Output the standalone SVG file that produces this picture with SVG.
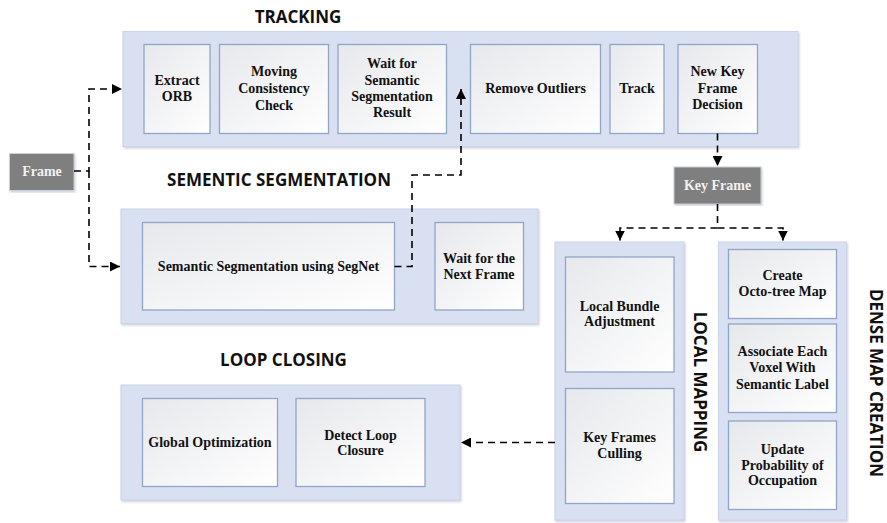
<svg xmlns="http://www.w3.org/2000/svg" width="887" height="523" viewBox="0 0 887 523">
<defs>
<linearGradient id="bg" x1="0" y1="0" x2="1" y2="1">
<stop offset="0" stop-color="#E7E8EC"/>
<stop offset="1" stop-color="#FFFFFF"/>
</linearGradient>
<filter id="sh" x="-5%" y="-5%" width="110%" height="110%">
<feDropShadow dx="1" dy="1.5" stdDeviation="1" flood-color="#9AA3B5" flood-opacity="0.5"/>
</filter>
<marker id="ah" viewBox="0 0 10 10" refX="10" refY="5" markerWidth="10" markerHeight="10" markerUnits="userSpaceOnUse" orient="auto">
<path d="M0,0 L10,5 L0,10 z" fill="#000"/>
</marker>
<style>
.cont{fill:#D9E0F1;stroke:#CCD4EA;stroke-width:1;filter:url(#sh)}
.box{fill:url(#bg);stroke:#8EA7C7;stroke-width:1.3}
.dark{fill:#7F7F7F;stroke:#C8CFDD;stroke-width:1;filter:url(#sh)}
.t{font-family:"Liberation Serif","Times New Roman",serif;font-weight:bold;font-size:14px;fill:#111;text-anchor:middle}
.w{font-family:"Liberation Serif","Times New Roman",serif;font-weight:bold;font-size:14px;fill:#F2F2F2;text-anchor:middle}
.h{font-family:"Open Sans","Noto Sans",sans-serif;font-weight:bold;font-size:17px;fill:#111;text-anchor:middle}
.c{fill:none;stroke:#000;stroke-width:1.6;stroke-dasharray:7,5}
</style>
</defs>

<g id="titles">
<text class="h" x="298" y="23">TRACKING</text>
<text class="h" x="279" y="186">SEMENTIC SEGMENTATION</text>
<text class="h" x="283.5" y="366">LOOP CLOSING</text>
<text class="h" transform="translate(694,382) rotate(90)">LOCAL MAPPING</text>
<text class="h" transform="translate(870,383) rotate(90)">DENSE MAP CREATION</text>
</g>

<g id="tracking">
<rect class="cont" x="123" y="31.5" width="675" height="115"/>
</g>
<g id="extract-orb">
<rect class="box" x="144" y="44.5" width="66" height="89"/>
<text class="t" x="177" y="84.5">Extract</text>
<text class="t" x="177" y="101">ORB</text>
</g>
<g id="moving-consistency">
<rect class="box" x="219.5" y="44.5" width="109" height="89"/>
<text class="t" x="274" y="76">Moving</text>
<text class="t" x="274" y="93">Consistency</text>
<text class="t" x="274" y="109.5">Check</text>
</g>
<g id="wait-semantic">
<rect class="box" x="338" y="44.5" width="108.5" height="89"/>
<text class="t" x="392" y="68">Wait for</text>
<text class="t" x="392" y="84.5">Semantic</text>
<text class="t" x="392" y="101">Segmentation</text>
<text class="t" x="392" y="117">Result</text>
</g>
<g id="remove-outliers">
<rect class="box" x="470.5" y="44.5" width="130" height="89"/>
<text class="t" x="535.5" y="93">Remove Outliers</text>
</g>
<g id="track">
<rect class="box" x="610" y="44.5" width="54" height="89"/>
<text class="t" x="637" y="93">Track</text>
</g>
<g id="new-key-frame">
<rect class="box" x="678" y="44.5" width="79.5" height="89"/>
<text class="t" x="717.5" y="76">New Key</text>
<text class="t" x="717.5" y="93">Frame</text>
<text class="t" x="717.5" y="109">Decision</text>
</g>

<g id="frame">
<rect class="dark" x="9.5" y="153.5" width="64.5" height="37"/>
<text class="w" x="42" y="176">Frame</text>
</g>
<g id="key-frame">
<rect class="dark" x="674" y="167" width="87" height="37"/>
<text class="w" x="717.5" y="190">Key Frame</text>
</g>

<g id="semantic-segmentation">
<rect class="cont" x="121" y="209" width="417" height="114.5"/>
</g>
<g id="segnet">
<rect class="box" x="142.5" y="222.5" width="252" height="87.5"/>
<text class="t" x="268.5" y="271">Semantic Segmentation using SegNet</text>
</g>
<g id="wait-next">
<rect class="box" x="435" y="222.5" width="88.5" height="87.5"/>
<text class="t" x="479" y="263">Wait for the</text>
<text class="t" x="479" y="279">Next Frame</text>
</g>

<g id="loop-closing">
<rect class="cont" x="121" y="385" width="339" height="115"/>
</g>
<g id="global-opt">
<rect class="box" x="142.5" y="398.5" width="135" height="88"/>
<text class="t" x="210" y="447">Global Optimization</text>
</g>
<g id="detect-loop">
<rect class="box" x="296" y="398.5" width="129" height="88"/>
<text class="t" x="360.5" y="439.5">Detect Loop</text>
<text class="t" x="360.5" y="455">Closure</text>
</g>

<g id="local-mapping">
<rect class="cont" x="555" y="242" width="129" height="278"/>
</g>
<g id="local-ba">
<rect class="box" x="565.5" y="257" width="108.5" height="115"/>
<text class="t" x="619.5" y="310.5">Local Bundle</text>
<text class="t" x="619.5" y="326">Adjustment</text>
</g>
<g id="kf-culling">
<rect class="box" x="565.5" y="388.5" width="108.5" height="115"/>
<text class="t" x="619.5" y="442">Key Frames</text>
<text class="t" x="619.5" y="458">Culling</text>
</g>

<g id="dense-map">
<rect class="cont" x="718.5" y="242" width="128" height="278"/>
</g>
<g id="octo-tree">
<rect class="box" x="728.5" y="249.5" width="108" height="69"/>
<text class="t" x="782.5" y="279.5">Create</text>
<text class="t" x="782.5" y="296">Octo-tree Map</text>
</g>
<g id="associate">
<rect class="box" x="728.5" y="324" width="108" height="88.5"/>
<text class="t" x="782.5" y="356">Associate Each</text>
<text class="t" x="782.5" y="372">Voxel With</text>
<text class="t" x="782.5" y="388.5">Semantic Label</text>
</g>
<g id="update-prob">
<rect class="box" x="728.5" y="421" width="108" height="88.5"/>
<text class="t" x="782.5" y="453.5">Update</text>
<text class="t" x="782.5" y="469.5">Probability of</text>
<text class="t" x="782.5" y="485">Occupation</text>
</g>

<g id="connectors">
<path class="c" d="M74,171 H89 V89 H122" marker-end="url(#ah)"/>
<path class="c" d="M89,171 V266.5 H120" marker-end="url(#ah)"/>
<path class="c" d="M394.5,266.5 H412 V175 H461 V89" marker-end="url(#ah)"/>
<path class="c" d="M717.5,133.5 V166" marker-end="url(#ah)"/>
<path class="c" d="M717.5,204 V228 H620 V240.5" marker-end="url(#ah)"/>
<path class="c" d="M717.5,228 H783 V240.5" marker-end="url(#ah)"/>
<path class="c" d="M555,442.5 H461" marker-end="url(#ah)"/>
</g>
</svg>
